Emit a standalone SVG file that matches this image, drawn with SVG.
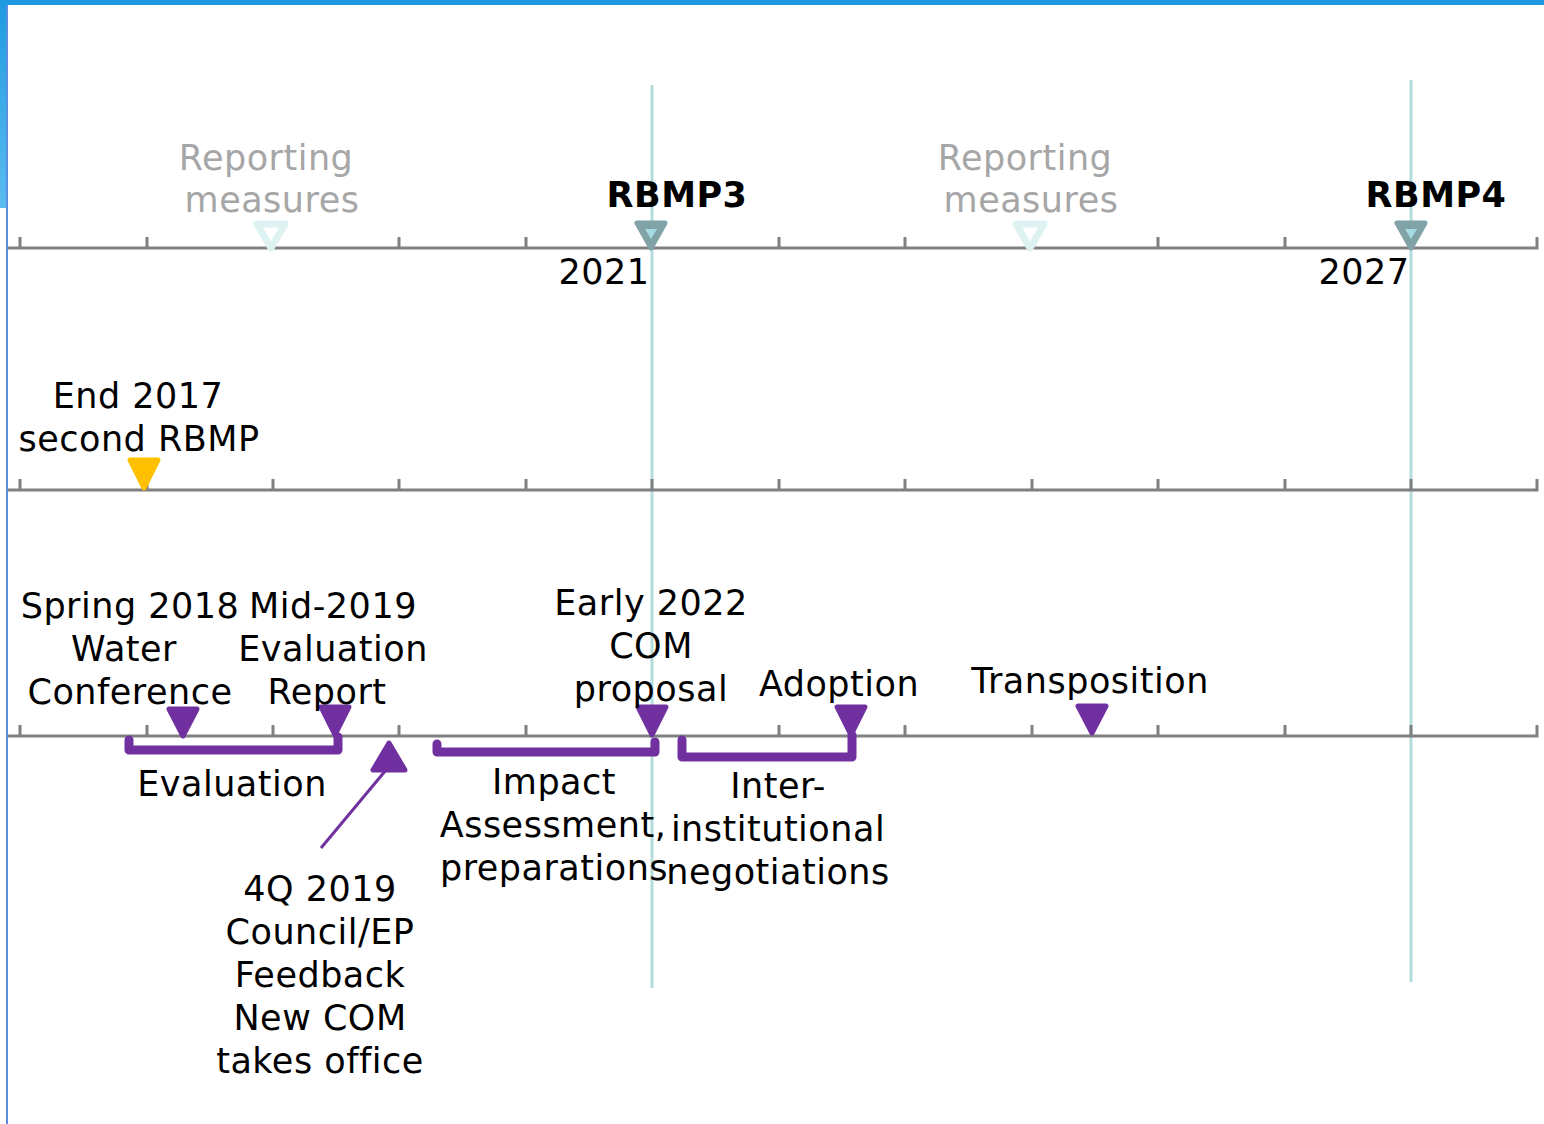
<svg xmlns="http://www.w3.org/2000/svg" width="1544" height="1124" viewBox="0 0 1544 1124">
<defs>
<linearGradient id="lg" x1="0" y1="0" x2="0" y2="1">
<stop offset="0" stop-color="#1e9ae0"/>
<stop offset="1" stop-color="#5bbcf0"/>
</linearGradient>
<style>
text{font-family:"DejaVu Sans","Verdana",sans-serif;font-size:35px;letter-spacing:0.5px;fill:#000;text-anchor:middle}
.gray{fill:#a6a6a6}
.bold{font-weight:bold}
.axis{stroke:#808080;stroke-width:3;fill:none}
.tick{stroke:#808080;stroke-width:3}
.vline{stroke:#b4dcdc;stroke-width:3}
.purple{fill:#7030a0;stroke:#7030a0;stroke-width:5;stroke-linejoin:round}
.bracket{fill:none;stroke:#7030a0;stroke-width:9;stroke-linejoin:round;stroke-linecap:round}
.teal{fill:#7fa3a6;stroke:#7fa3a6;stroke-width:5;stroke-linejoin:round}
.light{fill:#ffffff;stroke:#dff2f2;stroke-width:7;stroke-linejoin:round}
.yellow{fill:#ffc000;stroke:#ffc000;stroke-width:5;stroke-linejoin:round}
</style>
</defs>
<rect x="0" y="0" width="1544" height="1124" fill="#ffffff"/>
<rect x="0" y="0" width="1544" height="5" fill="#1e9ae0"/>
<rect x="0" y="0" width="7" height="208" fill="url(#lg)"/>
<rect x="6" y="5" width="2" height="1119" fill="#5a8fe0"/>

<g id="verticals">
<line class="vline" x1="652" y1="85" x2="652" y2="988"/>
<line class="vline" x1="1411" y1="80" x2="1411" y2="982"/>
</g>

<g id="axis-top">
<polyline class="axis" points="8,248 1537,248 1537,237"/>
<path class="tick" d="M20 237V248M147 237V248M273 237V248M399 237V248M526 237V248M652 237V248M779 237V248M905 237V248M1032 237V248M1158 237V248M1285 237V248M1411 237V248"/>
</g>
<g id="axis-mid">
<polyline class="axis" points="8,490 1537,490 1537,479"/>
<path class="tick" d="M20 479V490M147 479V490M273 479V490M399 479V490M526 479V490M652 479V490M779 479V490M905 479V490M1032 479V490M1158 479V490M1285 479V490M1411 479V490"/>
</g>
<g id="axis-bottom">
<polyline class="axis" points="8,736 1537,736 1537,725"/>
<path class="tick" d="M20 725V736M147 725V736M273 725V736M399 725V736M526 725V736M652 725V736M779 725V736M905 725V736M1032 725V736M1158 725V736M1285 725V736M1411 725V736"/>
</g>

<g id="reporting1">
<polygon class="light" points="257,224 285,224 271,248"/>
<text class="gray" x="266" y="170">Reporting</text>
<text class="gray" x="272" y="212">measures</text>
</g>
<g id="reporting2">
<polygon class="light" points="1016,224 1044,224 1030,248"/>
<text class="gray" x="1025" y="170">Reporting</text>
<text class="gray" x="1031" y="212">measures</text>
</g>
<g id="rbmp3">
<polygon class="teal" points="637,223 665,223 651,248"/>
<polygon points="645,229 657,229 651,239" fill="#a8dce4"/>
<text class="bold" x="677" y="207">RBMP3</text>
<text x="604" y="284">2021</text>
</g>
<g id="rbmp4">
<polygon class="teal" points="1397,223 1425,223 1411,248"/>
<polygon points="1405,229 1417,229 1411,239" fill="#a8dce4"/>
<text class="bold" x="1436" y="207">RBMP4</text>
<text x="1364" y="284">2027</text>
</g>

<g id="end2017">
<polygon class="yellow" points="130,460 158,460 144,488"/>
<text x="138" y="408">End 2017</text>
<text x="139" y="451">second RBMP</text>
</g>

<g id="spring2018">
<polygon class="purple" points="169,709 197,709 183,736"/>
<text x="130" y="618">Spring 2018</text>
<text x="124" y="661">Water</text>
<text x="130" y="704">Conference</text>
</g>
<g id="mid2019">
<polygon class="purple" points="321,707 349,707 335,735"/>
<text x="333" y="618">Mid-2019</text>
<text x="333" y="661">Evaluation</text>
<text x="327" y="704">Report</text>
</g>
<g id="early2022">
<polygon class="purple" points="638,707 666,707 652,735"/>
<text x="651" y="615">Early 2022</text>
<text x="651" y="658">COM</text>
<text x="651" y="701">proposal</text>
</g>
<g id="adoption">
<polygon class="purple" points="837,707 865,707 851,735"/>
<text x="839" y="696">Adoption</text>
</g>
<g id="transposition">
<polygon class="purple" points="1078,706 1106,706 1092,733"/>
<text x="1090" y="693">Transposition</text>
</g>

<g id="evaluation">
<polyline class="bracket" points="129,740 129,750 338,750 338,737"/>
<text x="232" y="796">Evaluation</text>
</g>
<g id="impact">
<polyline class="bracket" points="437,744 437,752 655,752 655,742"/>
<text x="554" y="794">Impact</text>
<text x="553" y="837">Assessment,</text>
<text x="554" y="880">preparations</text>
</g>
<g id="negotiations">
<polyline class="bracket" points="682,740 682,757 852,757 852,735"/>
<text x="778" y="798">Inter-</text>
<text x="778" y="841">institutional</text>
<text x="778" y="884">negotiations</text>
</g>

<g id="q4-2019">
<text x="320" y="901">4Q 2019</text>
<text x="320" y="944">Council/EP</text>
<text x="320" y="987">Feedback</text>
<text x="320" y="1030">New COM</text>
<text x="320" y="1073">takes office</text>
</g>

<g id="connectors">
<line x1="321" y1="848" x2="386" y2="770" stroke="#7030a0" stroke-width="3"/>
<polygon class="purple" points="389,743 373,770 405,770"/>
</g>
</svg>
